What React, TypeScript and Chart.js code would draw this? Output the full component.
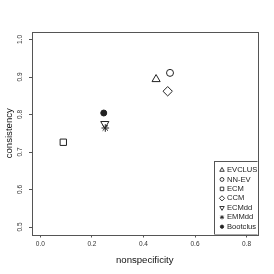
import React, { useEffect, useRef } from 'react';
import { Chart, registerables } from 'chart.js';
import { drawPoint } from 'chart.js/helpers';

Chart.register(...registerables);

const seriesNames = ['EVCLUS', 'NN-EV', 'ECM', 'CCM', 'ECMdd', 'EMMdd', 'Bootclus'];
const nonspecificity = [0.449, 0.503, 0.089, 0.494, 0.250, 0.252, 0.246];
const consistency = [0.894, 0.911, 0.726, 0.862, 0.775, 0.764, 0.804];
const xTicks = [0, 0.2, 0.4, 0.6, 0.8];
const yTicks = [0.5, 0.6, 0.7, 0.8, 0.9, 1.0];

const markers = [
  { style: 'triangle', rotation: 0, radius: 4.7, fill: false },
  { style: 'circle', rotation: 0, radius: 3.5, fill: false },
  { style: 'rect', rotation: 0, radius: 4.5, fill: false },
  { style: 'rectRot', rotation: 0, radius: 4.7, fill: false },
  { style: 'triangle', rotation: 180, radius: 4.7, fill: false },
  { style: 'star', rotation: 0, radius: 3.8, fill: false },
  { style: 'circle', rotation: 0, radius: 3, fill: true },
];

const INK = '#222';
const AXIS = '#555';
const FONT = 'Liberation Sans, Arial, Helvetica, sans-serif';

const boxPlugin = {
  id: 'rbox',
  afterDraw(chart: any) {
    const { ctx, chartArea } = chart;
    const l = Math.round(chartArea.left) + 0.5;
    const t = Math.round(chartArea.top) + 0.5;
    const r = Math.round(chartArea.right) + 0.5;
    const b = Math.round(chartArea.bottom) + 0.5;
    ctx.save();
    ctx.strokeStyle = AXIS;
    ctx.lineWidth = 1;
    ctx.strokeRect(l, t, r - l, b - t);
    ctx.restore();
  },
};

const legendPlugin = {
  id: 'rlegend',
  afterDatasetsDraw(chart: any) {
    const { ctx, chartArea } = chart;
    const left = Math.round(chartArea.right - 43.5) + 0.5;
    const top = Math.round(chartArea.bottom - 74) + 0.5;
    const bottom = Math.round(chartArea.bottom) - 0.5;
    ctx.save();
    ctx.beginPath();
    ctx.rect(chartArea.left, chartArea.top, chartArea.right - chartArea.left, chartArea.bottom - chartArea.top);
    ctx.clip();
    ctx.fillStyle = '#fff';
    ctx.fillRect(left, top, 60, bottom - top);
    ctx.strokeStyle = AXIS;
    ctx.lineWidth = 1;
    ctx.strokeRect(left, top, 60, bottom - top);
    ctx.font = `7.6px ${FONT}`;
    ctx.textBaseline = 'middle';
    ctx.textAlign = 'left';
    const step = 9.45;
    const y0 = top + 8.5;
    seriesNames.forEach((name, i) => {
      const m = markers[i];
      const y = y0 + i * step;
      const sx = left + 7.5;
      ctx.strokeStyle = INK;
      ctx.fillStyle = m.fill ? INK : 'rgba(0,0,0,0)';
      ctx.lineWidth = 0.9;
      drawPoint(ctx, { pointStyle: m.style, rotation: m.rotation, radius: m.radius * 0.55, borderWidth: 0.9 } as any, sx, y);
      ctx.fillStyle = INK;
      ctx.fillText(name, left + 12.5, y);
    });
    ctx.restore();
  },
};

export default function App() {
  const ref = useRef<HTMLCanvasElement>(null);
  useEffect(() => {
    if (!ref.current) return;
    const chart = new Chart(ref.current, {
      type: 'scatter',
      data: {
        datasets: seriesNames.map((name, i) => ({
          label: name,
          data: [{ x: nonspecificity[i], y: consistency[i] }],
          pointStyle: markers[i].style as any,
          rotation: markers[i].rotation,
          radius: markers[i].radius,
          hoverRadius: markers[i].radius,
          borderWidth: 1,
          borderColor: INK,
          backgroundColor: markers[i].fill ? INK : 'rgba(0,0,0,0)',
        })),
      },
      options: {
        responsive: false,
        animation: false,
        devicePixelRatio: 1,
        layout: { padding: { top: 32, right: 16.5, left: 0, bottom: 0 } },
        plugins: { legend: { display: false }, tooltip: { enabled: false } },
        scales: {
          x: {
            type: 'linear',
            min: -0.0324,
            max: 0.8424,
            afterBuildTicks: (s: any) => { s.ticks = xTicks.map((v) => ({ value: v })); },
            afterFit: (s: any) => { s.height = 39.5; },
            grid: { drawOnChartArea: false, drawTicks: true, tickLength: 3, color: AXIS },
            border: { display: false },
            ticks: {
              autoSkip: false,
              maxRotation: 0,
              padding: 3,
              color: '#333',
              font: { family: FONT, size: 6.5 },
              callback: (v: any) => Number(v).toFixed(1),
            },
            title: {
              display: true,
              text: 'nonspecificity',
              color: '#111',
              font: { family: FONT, size: 9.6 },
              padding: { top: 0, bottom: 8.3 },
            },
          },
          y: {
            type: 'linear',
            min: 0.48,
            max: 1.02,
            afterBuildTicks: (s: any) => { s.ticks = yTicks.map((v) => ({ value: v })); },
            afterFit: (s: any) => { s.width = 32; },
            grid: { drawOnChartArea: false, drawTicks: true, tickLength: 3, color: AXIS },
            border: { display: false },
            ticks: {
              autoSkip: false,
              minRotation: 90,
              maxRotation: 90,
              crossAlign: 'center',
              padding: 4,
              color: '#333',
              font: { family: FONT, size: 6.5 },
              callback: (v: any) => Number(v).toFixed(1),
            },
            title: {
              display: true,
              text: 'consistency',
              color: '#111',
              font: { family: FONT, size: 9.6 },
              padding: { top: 3.3, bottom: 0 },
            },
          },
        },
      },
      plugins: [boxPlugin, legendPlugin],
    });
    return () => chart.destroy();
  }, []);
  return (
    <div style={{ position: 'absolute', left: 0, top: 0, width: 274, height: 274, background: '#fff' }}>
      <canvas ref={ref} width={274} height={274} style={{ width: 274, height: 274, display: 'block' }} />
    </div>
  );
}
